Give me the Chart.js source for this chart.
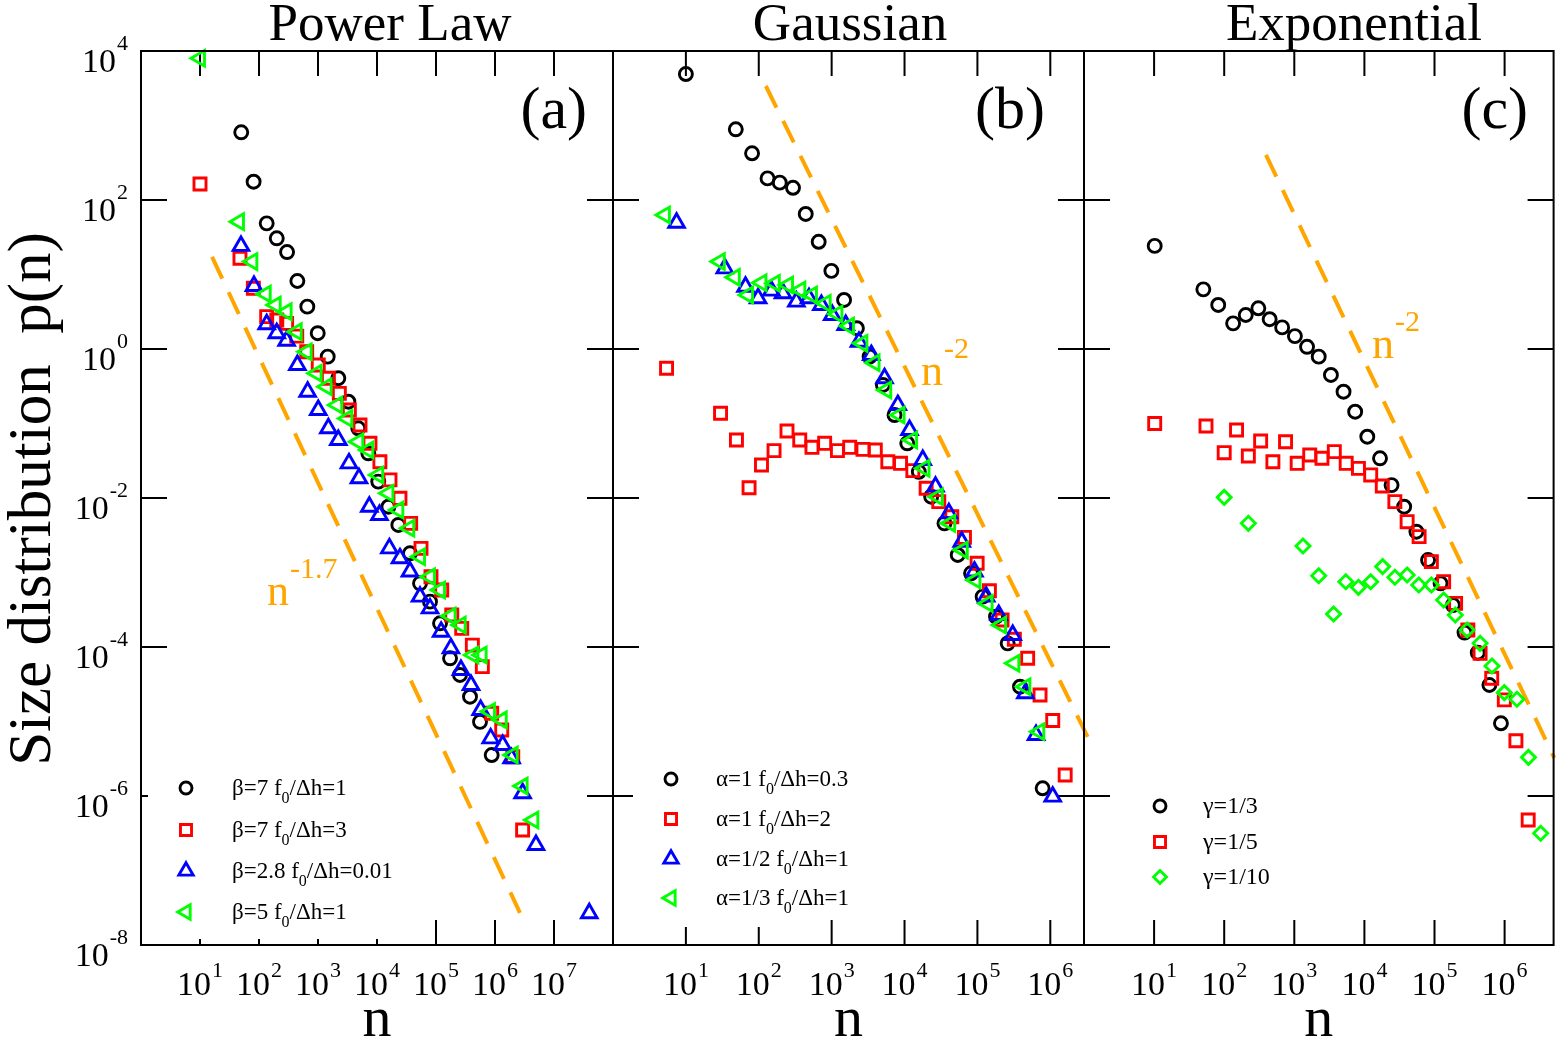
<!DOCTYPE html>
<html>
<head>
<meta charset="utf-8">
<title>Size distribution p(n)</title>
<script src="https://cdn.jsdelivr.net/npm/chart.js@4.4.1/dist/chart.umd.min.js"></script>
<style>
html,body{margin:0;padding:0;background:#fff;width:1565px;height:1042px;overflow:hidden}
canvas{position:absolute;left:0;top:0}
</style>
</head>
<body>
<canvas id="pa" width="1565" height="1042"></canvas>
<canvas id="pb" width="1565" height="1042"></canvas>
<canvas id="pc" width="1565" height="1042"></canvas>
<script>
// ---------------- axis ticks ----------------
const Y_TICKS = [1e-8, 1e-6, 1e-4, 1e-2, 1, 1e2, 1e4];
const X_TICKS_A = [1e1, 1e2, 1e3, 1e4, 1e5, 1e6, 1e7];
const X_TICKS_B = [1e1, 1e2, 1e3, 1e4, 1e5, 1e6];
const X_TICKS_C = [1e1, 1e2, 1e3, 1e4, 1e5, 1e6];

const PANEL_TITLES = ["Power Law", "Gaussian", "Exponential"];
const PANEL_LETTERS = ["(a)", "(b)", "(c)"];

// ---------------- (a) Power Law ----------------
const A_LABELS = ["β=7 f_0/Δh=1", "β=7 f_0/Δh=3", "β=2.8 f_0/Δh=0.01", "β=5 f_0/Δh=1"];
const A1_n = [50, 81, 135, 200, 299, 447, 659, 989, 1460, 2210, 3270, 4820, 7130, 1.05e4, 1.56e4, 2.30e4, 3.62e4, 5.36e4, 7.91e4, 1.17e5, 1.73e5, 2.55e5, 3.77e5, 5.57e5, 8.79e5];
const A1_p = [810, 176, 48.6, 30.6, 20.0, 8.18, 3.70, 1.63, 0.79, 0.405, 0.196, 0.0863, 0.0398, 0.0166, 7.64e-3, 4.35e-3, 1.81e-3, 7.16e-4, 4.06e-4, 2.08e-4, 7.05e-5, 4.21e-5, 2.15e-5, 9.9e-6, 3.55e-6];
const A2_n = [10, 47.6, 80.2, 135, 200, 294, 436, 643, 1010, 1500, 2300, 3400, 5150, 7600, 1.12e4, 1.66e4, 2.45e4, 3.72e4, 5.57e4, 8.22e4, 1.25e5, 1.85e5, 2.73e5, 4.13e5, 6.10e5, 8.79e5, 1.30e6, 2.0e6, 2.94e6];
const A2_p = [164, 16.5, 6.53, 2.72, 2.45, 2.21, 1.49, 0.92, 0.61, 0.405, 0.254, 0.152, 0.0955, 0.0542, 0.0307, 0.0175, 9.9e-3, 4.57e-3, 2.11e-3, 8.77e-4, 5.82e-4, 2.69e-4, 1.78e-4, 1.06e-4, 5.45e-5, 1.29e-5, 7.69e-6, 3.37e-6, 3.50e-7];
const A3_n = [49.5, 82.2, 135, 200, 294, 447, 668, 1010, 1500, 2210, 3350, 4950, 7410, 1.10e4, 1.62e4, 2.45e4, 3.62e4, 5.36e4, 7.91e4, 1.22e5, 1.79e5, 2.65e5, 3.92e5, 5.71e5, 8.45e5, 1.35e6, 1.91e6, 2.94e6, 4.95e6, 3.96e7];
const A3_p = [24.2, 7.01, 2.15, 1.63, 1.29, 0.61, 0.267, 0.152, 0.0863, 0.0601, 0.0292, 0.0184, 7.64e-3, 5.92e-3, 2.11e-3, 1.55e-3, 1.03e-3, 4.74e-4, 3.30e-4, 1.60e-4, 9.6e-5, 4.91e-5, 3.09e-5, 1.43e-5, 5.94e-6, 4.84e-6, 3.21e-6, 1.09e-6, 2.2e-7, 2.67e-8];
const A4_n = [10, 45.8, 77.1, 130, 192, 294, 436, 643, 948, 1400, 2120, 3140, 4820, 7130, 1.05e4, 1.56e4, 2.30e4, 3.52e4, 5.36e4, 7.91e4, 1.17e5, 1.77e5, 2.62e5, 4.30e5, 5.94e5, 8.22e5, 1.30e6, 2.0e6, 2.94e6, 4.47e6];
const A4_p = [8.0e3, 51.2, 14.9, 5.47, 3.90, 3.17, 1.71, 0.92, 0.472, 0.312, 0.177, 0.117, 0.057, 0.0441, 0.0204, 0.0116, 6.9e-3, 3.92e-3, 1.63e-3, 8.77e-4, 5.82e-4, 2.61e-4, 1.97e-4, 7.82e-5, 7.82e-5, 1.36e-5, 1.05e-5, 3.55e-6, 1.36e-6, 4.76e-7];
const A_GUIDE_n = [16, 2.65e6];
const A_GUIDE_p = [17.2, 2.7e-8];

// ---------------- (b) Gaussian ----------------
const B_LABELS = ["α=1 f_0/Δh=0.3", "α=1 f_0/Δh=2", "α=1/2 f_0/Δh=1", "α=1/3 f_0/Δh=1"];
const B1_n = [10, 48.4, 80.9, 132, 194, 295, 441, 664, 991, 1480, 2220, 3320, 5050, 7290, 1.09e4, 1.57e4, 2.32e4, 3.53e4, 5.37e4, 8.18e4, 1.18e5, 1.80e5, 2.60e5, 3.84e5, 7.85e5];
const B1_p = [4910, 889, 424, 195, 171, 146, 64.9, 27.5, 11.2, 4.55, 1.90, 0.789, 0.329, 0.130, 0.0542, 0.0225, 0.0104, 4.57e-3, 1.72e-3, 9.75e-4, 4.74e-4, 2.55e-4, 1.12e-4, 2.93e-5, 1.27e-6];
const B2_n = [5.43, 29.9, 49.4, 73.6, 109, 162, 244, 365, 537, 802, 1200, 1770, 2690, 3970, 5900, 8810, 1.30e4, 1.98e4, 2.95e4, 4.45e4, 6.64e4, 9.91e4, 1.46e5, 2.18e5, 3.21e5, 4.89e5, 7.23e5, 1.08e6, 1.60e6];
const B2_p = [0.551, 0.137, 0.0601, 0.0137, 0.0277, 0.0432, 0.0793, 0.0601, 0.0479, 0.0542, 0.0432, 0.0479, 0.045, 0.0441, 0.0307, 0.0292, 0.0233, 0.0135, 8.93e-3, 5.61e-3, 2.96e-3, 1.33e-3, 5.70e-4, 2.30e-4, 1.27e-4, 7.05e-5, 2.27e-5, 1.03e-5, 1.91e-6];
const B3_n = [7.45, 34.2, 65.8, 97.9, 149, 215, 328, 489, 723, 1020, 1560, 2370, 3500, 5320, 8090, 1.17e4, 1.78e4, 2.66e4, 4.06e4, 6.10e4, 9.10e4, 1.32e5, 1.96e5, 3.05e5, 4.55e5, 6.37e5, 1.08e6];
const B3_p = [49.5, 12.1, 6.85, 4.80, 6.07, 5.60, 4.32, 4.80, 3.90, 2.86, 2.10, 1.25, 0.83, 0.405, 0.177, 0.0818, 0.0324, 0.0142, 6.24e-3, 2.59e-3, 1.03e-3, 4.74e-4, 2.69e-4, 1.45e-4, 2.39e-5, 6.59e-6, 9.8e-7];
const B4_n = [5.15, 29.2, 46.9, 71.3, 109, 166, 252, 372, 537, 828, 1200, 1730, 2640, 3880, 5610, 8550, 1.27e4, 1.88e4, 2.86e4, 4.23e4, 6.30e4, 9.40e4, 1.38e5, 2.11e5, 3.21e5, 4.55e5, 7.06e5];
const B4_p = [63.0, 14.9, 9.16, 5.31, 7.76, 7.62, 7.23, 6.19, 5.31, 4.10, 2.95, 2.04, 1.19, 0.655, 0.282, 0.130, 0.0601, 0.025, 0.0104, 4.57e-3, 2.0e-3, 7.93e-4, 3.85e-4, 1.97e-4, 6.04e-5, 2.93e-5, 7.3e-6];
const B_GUIDE_n = [125, 3.42e6];
const B_GUIDE_p = [3390, 5.65e-6];

// ---------------- (c) Exponential ----------------
const C_LABELS = ["γ=1/3", "γ=1/5", "γ=1/10"];
const C1_n = [10.2, 50.4, 82.2, 134, 203, 307, 445, 671, 1020, 1520, 2230, 3330, 5040, 7380, 1.10e4, 1.67e4, 2.44e4, 3.69e4, 5.52e4, 8.09e4, 1.22e5, 1.83e5, 2.68e5, 4.14e5, 6.07e5, 8.87e5];
const C1_p = [24.2, 6.32, 3.90, 2.21, 2.86, 3.52, 2.51, 1.95, 1.49, 1.07, 0.789, 0.448, 0.267, 0.144, 0.0665, 0.0341, 0.0149, 7.64e-3, 3.53e-3, 1.47e-3, 7.16e-4, 3.66e-4, 1.56e-4, 8.39e-5, 3.09e-5, 9.46e-6];
const C2_n = [10.2, 55.0, 100, 150, 221, 331, 495, 750, 1100, 1660, 2480, 3720, 5500, 8220, 1.23e4, 1.80e4, 2.72e4, 4.07e4, 6.03e4, 9.02e4, 1.35e5, 2.0e5, 2.99e5, 4.47e5, 6.55e5, 9.91e5, 1.45e6, 2.17e6];
const C2_p = [0.100, 0.0925, 0.0406, 0.0818, 0.0366, 0.0582, 0.0307, 0.057, 0.0292, 0.0378, 0.0341, 0.0419, 0.0292, 0.025, 0.0204, 0.0145, 8.93e-3, 4.81e-3, 3.03e-3, 1.40e-3, 7.53e-4, 3.85e-4, 1.69e-4, 8.22e-5, 3.80e-5, 1.95e-5, 5.52e-6, 4.76e-7];
const C3_n = [100, 221, 1330, 2230, 3630, 5430, 8220, 1.23e4, 1.82e4, 2.72e4, 4.07e4, 5.97e4, 9.02e4, 1.35e5, 1.98e5, 2.92e5, 4.47e5, 6.61e5, 9.91e5, 1.50e6, 2.19e6, 3.27e6];
const C3_p = [0.0102, 4.57e-3, 2.27e-3, 9.06e-4, 2.77e-4, 7.53e-4, 6.32e-4, 7.53e-4, 1.20e-3, 8.63e-4, 9.25e-4, 6.79e-4, 6.79e-4, 4.28e-4, 2.69e-4, 1.69e-4, 1.12e-4, 5.56e-5, 2.44e-5, 1.99e-5, 3.30e-6, 3.16e-7];
const C_GUIDE_n = [394, 5.12e6];
const C_GUIDE_p = [402, 3.24e-6];

const GUIDE_TEXT = [["n", "-1.7"], ["n", "-2"], ["n", "-2"]];

// ---------------- styles ----------------
const FONT = '"Liberation Serif","Times New Roman",Times,serif';
const ST_CIRCLE   = {pointStyle: 'circle',   rotation: 0,   radius: 6.5, color: '#000000'};
const ST_SQUARE   = {pointStyle: 'rect',     rotation: 0,   radius: 8.5, color: '#FF0000'};
const ST_TRI_UP   = {pointStyle: 'triangle', rotation: 0,   radius: 9,   color: '#0000FF'};
const ST_TRI_LEFT = {pointStyle: 'triangle', rotation: -90, radius: 9,   color: '#00FF00'};
const ST_DIAMOND  = {pointStyle: 'rectRot',  rotation: 0,   radius: 7,   color: '#00FF00'};
const ORANGE = '#FFA500';
const MARK_W = 2.9;

function drawMarker(ctx, st, x, y, scale) {
  const r = st.radius * scale;
  ctx.save();
  ctx.strokeStyle = st.color; ctx.lineWidth = MARK_W;
  ctx.beginPath();
  if (st.pointStyle === 'circle') {
    ctx.arc(x, y, r, 0, Math.PI * 2);
  } else if (st.pointStyle === 'rect') {
    const s = r * Math.SQRT1_2; ctx.rect(x - s, y - s, 2 * s, 2 * s);
  } else if (st.pointStyle === 'rectRot') {
    ctx.moveTo(x - r, y); ctx.lineTo(x, y - r); ctx.lineTo(x + r, y); ctx.lineTo(x, y + r); ctx.closePath();
  } else {
    let rad = (st.rotation || 0) * Math.PI / 180;
    for (let k = 0; k < 3; k++) {
      const px = x + Math.sin(rad) * r, py = y - Math.cos(rad) * r;
      if (k === 0) ctx.moveTo(px, py); else ctx.lineTo(px, py);
      rad += 2 * Math.PI / 3;
    }
    ctx.closePath();
  }
  ctx.stroke();
  ctx.restore();
}

function drawRich(ctx, text, x, y, size, color) {
  ctx.fillStyle = color; ctx.textAlign = 'left'; ctx.textBaseline = 'alphabetic';
  const parts = text.split(/(_.)/);
  let cx = x;
  parts.forEach(p => {
    if (!p) return;
    if (p[0] === '_') {
      ctx.font = Math.round(size * 0.7) + 'px ' + FONT;
      ctx.fillText(p[1], cx, y + size * 0.33);
      cx += ctx.measureText(p[1]).width;
    } else {
      ctx.font = size + 'px ' + FONT;
      ctx.fillText(p, cx, y);
      cx += ctx.measureText(p).width;
    }
  });
}

function drawPow(ctx, e, x, y, align, raise) {
  ctx.fillStyle = '#000'; ctx.textAlign = 'left'; ctx.textBaseline = 'alphabetic';
  ctx.font = '34px ' + FONT; const w1 = ctx.measureText('10').width;
  ctx.font = '22px ' + FONT; const es = String(e); const w2 = ctx.measureText(es).width;
  const gap = 1;
  const x0 = align === 'center' ? x - (w1 + gap + w2) / 2 : x - (w1 + gap + w2);
  ctx.font = '34px ' + FONT; ctx.fillText('10', x0, y);
  ctx.font = '22px ' + FONT; ctx.fillText(es, x0 + w1 + gap, y - raise);
}

const decorPlugin = {
  id: 'decor',
  beforeDatasetsDraw(chart, args, o) {
    const ctx = chart.ctx, a = chart.chartArea, xs = chart.scales.x, ys = chart.scales.y;
    ctx.save();
    ctx.strokeStyle = '#000'; ctx.lineWidth = 2; ctx.lineCap = 'butt';
    ctx.beginPath();
    o.xTicks.forEach(v => {
      const x = xs.getPixelForValue(v);
      ctx.moveTo(x, a.top); ctx.lineTo(x, a.top + 25);
      ctx.moveTo(x, a.bottom); ctx.lineTo(x, a.bottom - 25);
    });
    Y_TICKS.forEach(v => {
      const y = ys.getPixelForValue(v);
      ctx.moveTo(a.left, y); ctx.lineTo(a.left + 26, y);
      ctx.moveTo(a.right, y); ctx.lineTo(a.right - 26, y);
    });
    ctx.stroke();
    ctx.restore();
  },
  afterDatasetsDraw(chart, args, o) {
    const ctx = chart.ctx, a = chart.chartArea;
    ctx.save();
    if (o.legendBox) {
      const b = o.legendBox;
      ctx.fillStyle = '#fff'; ctx.fillRect(b[0], b[1], b[2] - b[0], b[3] - b[1]);
    }
    o.legend.labels.forEach((lab, i) => {
      const y = o.legend.ys[i];
      drawMarker(ctx, o.legend.styles[i], o.legend.symX, y, 0.92);
      drawRich(ctx, lab, o.legend.textX, y + 7, o.legend.size, '#000');
    });
    ctx.strokeStyle = '#000'; ctx.lineWidth = 2;
    ctx.strokeRect(a.left, a.top, a.right - a.left, a.bottom - a.top);
    ctx.restore();
  },
  afterDraw(chart, args, o) {
    const ctx = chart.ctx, a = chart.chartArea, xs = chart.scales.x, ys = chart.scales.y;
    ctx.save();
    // title
    ctx.fillStyle = '#000'; ctx.textAlign = 'center'; ctx.textBaseline = 'alphabetic';
    ctx.font = '53px ' + FONT;
    ctx.fillText(o.title, o.titleX, 40);
    // panel letter
    ctx.textAlign = 'right'; ctx.font = '60px ' + FONT;
    ctx.fillText(o.letter, o.letterX, 128);
    // x tick labels
    o.xTicks.forEach(v => {
      drawPow(ctx, Math.round(Math.log10(v)), xs.getPixelForValue(v), 995, 'center', 18);
    });
    // x title
    ctx.fillStyle = '#000'; ctx.textAlign = 'center'; ctx.font = '58px ' + FONT;
    ctx.fillText('n', (a.left + a.right) / 2, 1036);
    // guide annotation
    ctx.fillStyle = ORANGE; ctx.textAlign = 'left';
    ctx.font = '44px ' + FONT;
    ctx.fillText(o.note.base, o.note.x, o.note.y);
    const wn = ctx.measureText(o.note.base).width;
    ctx.font = '30px ' + FONT;
    ctx.fillText(o.note.sup, o.note.x + wn + 1, o.note.y - 27);
    // y axis labels and title
    if (o.yAxis) {
      Y_TICKS.forEach(v => {
        drawPow(ctx, Math.round(Math.log10(v)), 128, ys.getPixelForValue(v) + 21, 'right', 22);
      });
      ctx.save();
      ctx.translate(50, 499);
      ctx.rotate(-Math.PI / 2);
      ctx.fillStyle = '#000'; ctx.textAlign = 'center'; ctx.textBaseline = 'alphabetic';
      ctx.font = '61px ' + FONT;
      ctx.fillText('Size distribution  p(n)', 0, 0);
      ctx.restore();
    }
    ctx.restore();
  }
};

function series(label, n, p, st, order) {
  return {
    label: label,
    data: n.map((v, i) => ({x: v, y: p[i]})),
    showLine: false,
    pointStyle: st.pointStyle,
    pointRotation: st.rotation,
    pointRadius: st.radius,
    pointHoverRadius: st.radius,
    pointBorderWidth: MARK_W,
    pointBorderColor: st.color,
    pointBackgroundColor: 'rgba(0,0,0,0)',
    borderColor: st.color,
    backgroundColor: 'rgba(0,0,0,0)',
    clip: false,
    order: order
  };
}

function guide(n, p) {
  return {
    label: 'guide',
    data: n.map((v, i) => ({x: v, y: p[i]})),
    showLine: true,
    borderColor: ORANGE,
    borderWidth: 4,
    borderDash: [24, 15],
    borderCapStyle: 'butt',
    pointRadius: 0,
    pointHoverRadius: 0,
    fill: false,
    clip: false,
    order: 10
  };
}

function makePanel(id, datasets, xMax, pad, decor) {
  return new Chart(document.getElementById(id), {
    type: 'scatter',
    data: {datasets: datasets},
    options: {
      responsive: false, animation: false, devicePixelRatio: 1, events: [],
      layout: {padding: pad},
      scales: {
        x: {type: 'logarithmic', min: 1, max: xMax, display: false},
        y: {type: 'logarithmic', min: 1e-8, max: 1e4, display: false}
      },
      plugins: {legend: {display: false}, tooltip: {enabled: false}, decor: decor}
    },
    plugins: [decorPlugin]
  });
}

// Panel (a)
makePanel('pa', [
  series(A_LABELS[0], A1_n, A1_p, ST_CIRCLE, 4),
  series(A_LABELS[1], A2_n, A2_p, ST_SQUARE, 3),
  series(A_LABELS[2], A3_n, A3_p, ST_TRI_UP, 2),
  series(A_LABELS[3], A4_n, A4_p, ST_TRI_LEFT, 1),
  guide(A_GUIDE_n, A_GUIDE_p)
], 1e8, {left: 141, right: 952, top: 51, bottom: 97}, {
  xTicks: X_TICKS_A, title: PANEL_TITLES[0], titleX: 390, letter: PANEL_LETTERS[0], letterX: 587,
  note: {base: GUIDE_TEXT[0][0], sup: GUIDE_TEXT[0][1], x: 267, y: 605},
  legendBox: [148, 762, 425, 939],
  legend: {labels: A_LABELS, styles: [ST_CIRCLE, ST_SQUARE, ST_TRI_UP, ST_TRI_LEFT], symX: 186, textX: 232, ys: [788, 830, 871, 912], size: 23},
  yAxis: true
});

// Panel (b)
makePanel('pb', [
  series(B_LABELS[0], B1_n, B1_p, ST_CIRCLE, 4),
  series(B_LABELS[1], B2_n, B2_p, ST_SQUARE, 3),
  series(B_LABELS[2], B3_n, B3_p, ST_TRI_UP, 2),
  series(B_LABELS[3], B4_n, B4_p, ST_TRI_LEFT, 1),
  guide(B_GUIDE_n, B_GUIDE_p)
], 2.9e6, {left: 613, right: 481, top: 51, bottom: 97}, {
  xTicks: X_TICKS_B, title: PANEL_TITLES[1], titleX: 850, letter: PANEL_LETTERS[1], letterX: 1045,
  note: {base: GUIDE_TEXT[1][0], sup: GUIDE_TEXT[1][1], x: 921, y: 385},
  legendBox: [633, 752, 800, 927],
  legend: {labels: B_LABELS, styles: [ST_CIRCLE, ST_SQUARE, ST_TRI_UP, ST_TRI_LEFT], symX: 671, textX: 716, ys: [779, 819, 859, 898], size: 23},
  yAxis: false
});

// Panel (c)
makePanel('pc', [
  series(C_LABELS[0], C1_n, C1_p, ST_CIRCLE, 3),
  series(C_LABELS[1], C2_n, C2_p, ST_SQUARE, 2),
  series(C_LABELS[2], C3_n, C3_p, ST_DIAMOND, 1),
  guide(C_GUIDE_n, C_GUIDE_p)
], 5e6, {left: 1084, right: 8, top: 51, bottom: 97}, {
  xTicks: X_TICKS_C, title: PANEL_TITLES[2], titleX: 1354, letter: PANEL_LETTERS[2], letterX: 1528,
  note: {base: GUIDE_TEXT[2][0], sup: GUIDE_TEXT[2][1], x: 1372, y: 358},
  legendBox: null,
  legend: {labels: C_LABELS, styles: [ST_CIRCLE, ST_SQUARE, ST_DIAMOND], symX: 1160, textX: 1203, ys: [806, 842, 877], size: 24},
  yAxis: false
});
</script>
</body>
</html>
